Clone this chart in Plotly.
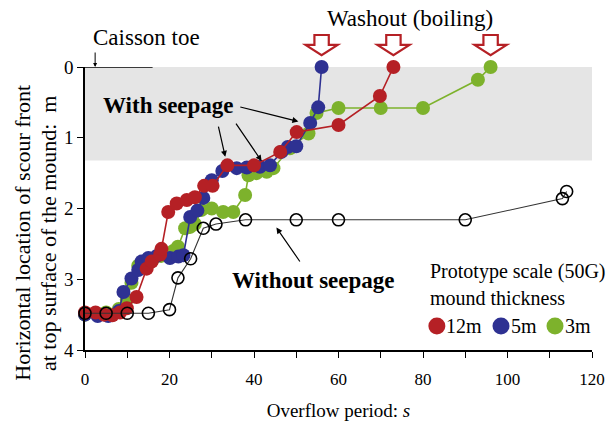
import plotly.graph_objects as go

# ---------------- data ----------------
red_x = [0, 2.5, 4.5, 6.5, 8.3, 9.9, 12.2, 14.6, 15.8, 17.8, 18.1, 19.7, 21.7, 24.1, 26, 28.2, 30.2, 33.7, 40, 46.2, 50.1, 60, 69.8, 73]
red_y = [3.47, 3.47, 3.5, 3.51, 3.47, 3.41, 3.25, 2.85, 2.75, 2.65, 2.57, 2.05, 1.93, 1.88, 1.84, 1.68, 1.68, 1.39, 1.39, 1.2, 0.92, 0.82, 0.41, 0.0]

blue_x = [0, 3, 5.5, 8, 9.1, 11, 12.6, 13.4, 15, 17, 20.1, 22.1, 23.3, 24.9, 26.6, 28, 30, 32.5, 35.9, 38.3, 41.4, 43.8, 46.5, 48, 50, 53.3, 55.2, 56]
blue_y = [3.5, 3.52, 3.52, 3.45, 3.18, 2.99, 2.87, 2.75, 2.7, 2.67, 2.7, 2.68, 2.66, 2.12, 2.03, 1.85, 1.6, 1.47, 1.43, 1.42, 1.41, 1.39, 1.2, 1.13, 1.12, 0.79, 0.57, 0.0]

green_x = [0, 3, 5, 8, 9.9, 11, 12.6, 14.2, 16, 18, 20.9, 22, 23.7, 24.9, 26, 27.6, 30, 32.7, 35.1, 37.9, 38.7, 40.6, 43, 44.6, 48.5, 52.9, 54.8, 60, 70, 80, 93, 96]
green_y = [3.5, 3.5, 3.47, 3.42, 3.29, 3.05, 2.81, 2.77, 2.72, 2.67, 2.6, 2.54, 2.28, 2.26, 2.22, 2.02, 2.0, 2.05, 2.05, 1.81, 1.53, 1.5, 1.48, 1.43, 1.15, 0.94, 0.65, 0.58, 0.58, 0.58, 0.18, 0.0]

noseep_x = [0, 5, 10, 15, 20, 22, 25, 28, 31, 38, 50, 60, 90, 113, 114]
noseep_y = [3.48, 3.48, 3.48, 3.48, 3.43, 2.98, 2.71, 2.28, 2.22, 2.16, 2.16, 2.16, 2.16, 1.86, 1.76]

washout_x = [56, 73, 96]
series_names = ["12m", "5m", "3m"]
x_ticks = [0, 20, 40, 60, 80, 100, 120]
y_ticks = [0, 1, 2, 3, 4]
mound_top = 1.32

RED = "#b52025"
BLUE = "#2e3192"
GREEN = "#7db22c"
FONT = "Liberation Serif"
series_colors = [RED, BLUE, GREEN]

fig = go.Figure()

for xs, ys, c in [(green_x, green_y, GREEN), (blue_x, blue_y, BLUE), (red_x, red_y, RED)]:
    fig.add_trace(go.Scatter(x=xs, y=ys, mode="lines+markers", cliponaxis=False,
                             line=dict(color=c, width=1.6),
                             marker=dict(color=c, size=14, line=dict(width=0)),
                             showlegend=False))

fig.add_trace(go.Scatter(x=noseep_x, y=noseep_y, mode="lines+markers", cliponaxis=False,
                         line=dict(color="#333333", width=1.1),
                         marker=dict(size=12, color="rgba(0,0,0,0)", line=dict(color="black", width=1.6)),
                         showlegend=False))

shapes = []
# mound band
shapes.append(dict(type="rect", xref="x", yref="y", x0=0, x1=120, y0=0, y1=mound_top,
                   fillcolor="#e5e5e5", line=dict(width=0), layer="below"))
# caisson line
shapes.append(dict(type="line", xref="x", yref="y", x0=0, x1=16, y0=0, y1=0,
                   line=dict(color="black", width=1.5)))
# washout hollow arrows (paper y)
for wx in washout_x:
    hs, hh = 1.7, 3.8
    yt, ym, yb = 1.113, 1.078, 1.042
    path = (f"M {wx-hs},{yt} L {wx+hs},{yt} L {wx+hs},{ym} L {wx+hh},{ym} "
            f"L {wx},{yb} L {wx-hh},{ym} L {wx-hs},{ym} Z")
    shapes.append(dict(type="path", xref="x", yref="paper", path=path,
                       fillcolor="white", line=dict(color=RED, width=2.2)))

# manual legend symbols
leg_cx = [0.694, 0.8205, 0.927]
leg_tx = [0.708, 0.836, 0.943]
leg_y = 0.085
for cx, c in zip(leg_cx, series_colors):
    shapes.append(dict(type="circle", xref="paper", yref="paper", xsizemode="pixel", ysizemode="pixel",
                       xanchor=cx, yanchor=leg_y, x0=-8.5, x1=8.5, y0=-8.5, y1=8.5,
                       fillcolor=c, line=dict(width=0)))

TXT = dict(family=FONT, size=23, color="black")
annotations = [
    dict(x=0.641, xref="paper", y=1.173, yref="paper", text="Washout (boiling)", showarrow=False,
         font=TXT, xanchor="center", yanchor="middle"),
    dict(x=1.5, xref="x", y=1.105, yref="paper", text="Caisson toe", showarrow=False,
         font=TXT, xanchor="left", yanchor="middle"),
    dict(x=2.4, xref="x", y=0, yref="y", text="", showarrow=True, ax=0, ay=-16,
         arrowhead=2, arrowsize=0.8, arrowwidth=1, arrowcolor="black"),
    dict(x=19.8, xref="x", y=0.55, yref="y", text="<b>With seepage</b>", showarrow=False,
         font=TXT, xanchor="center", yanchor="middle"),
    dict(x=50.5, xref="x", y=0.77, yref="y", text="", showarrow=True, axref="x", ayref="y",
         ax=36.4, ay=0.56, arrowhead=2, arrowsize=1, arrowwidth=1.2, arrowcolor="black", standoff=0),
    dict(x=33.2, xref="x", y=1.27, yref="y", text="", showarrow=True, axref="x", ayref="y",
         ax=31.5, ay=0.82, arrowhead=2, arrowsize=1, arrowwidth=1.2, arrowcolor="black", standoff=0),
    dict(x=41.8, xref="x", y=1.33, yref="y", text="", showarrow=True, axref="x", ayref="y",
         ax=35.5, ay=0.78, arrowhead=2, arrowsize=1, arrowwidth=1.2, arrowcolor="black", standoff=0),
    dict(x=54.0, xref="x", y=3.02, yref="y", text="<b>Without seepage</b>", showarrow=False,
         font=TXT, xanchor="center", yanchor="middle"),
    dict(x=45.3, xref="x", y=2.27, yref="y", text="", showarrow=True, axref="x", ayref="y",
         ax=51.1, ay=2.77, arrowhead=2, arrowsize=1, arrowwidth=1.2, arrowcolor="black", standoff=0),
    # legend texts
    dict(x=0.6765, xref="paper", y=0.276, yref="paper", text="Prototype scale (50G)", showarrow=False,
         font=dict(family=FONT, size=20), xanchor="left", yanchor="middle"),
    dict(x=0.6765, xref="paper", y=0.184, yref="paper", text="mound thickness", showarrow=False,
         font=dict(family=FONT, size=20), xanchor="left", yanchor="middle"),
    # y-axis title (two lines)
    dict(x=-0.124, xref="paper", y=0.415, yref="paper", text="Horizontal location of scour front",
         showarrow=False, textangle=-90, font=dict(family=FONT, size=22), xanchor="center", yanchor="middle"),
    dict(x=-0.072, xref="paper", y=0.415, yref="paper", text="at top surface of the mound:  m",
         showarrow=False, textangle=-90, font=dict(family=FONT, size=22), xanchor="center", yanchor="middle"),
]
for tx, name in zip(leg_tx, series_names):
    annotations.append(dict(x=tx, xref="paper", y=leg_y, yref="paper", text=name, showarrow=False,
                            font=dict(family=FONT, size=20), xanchor="left", yanchor="middle"))

fig.update_layout(
    width=606, height=422,
    margin=dict(l=85, r=14, t=67, b=72),
    paper_bgcolor="white", plot_bgcolor="white",
    font=dict(family=FONT, size=17, color="black"),
    shapes=shapes, annotations=annotations, showlegend=False,
)
fig.update_xaxes(range=[0, 120], tickvals=x_ticks, showgrid=False, zeroline=False, automargin=False,
                 showline=True, linecolor="black", linewidth=1.5, ticks="outside",
                 ticklen=6, tickwidth=1.2, tickcolor="black", ticklabelstandoff=7,
                 minor=dict(dtick=10, ticks="outside", ticklen=6, tickwidth=1.2, tickcolor="black"),
                 tickfont=dict(family=FONT, size=17),
                 title=dict(text="Overflow period: <i>s</i>", font=dict(family=FONT, size=19), standoff=16))
fig.update_yaxes(range=[4, 0], tickvals=y_ticks, showgrid=False, zeroline=False, automargin=False,
                 showline=True, linecolor="black", linewidth=1.5, ticks="outside",
                 ticklen=6, tickwidth=1.2, tickcolor="black",
                 tickfont=dict(family=FONT, size=19))

fig.write_html("out.html")
